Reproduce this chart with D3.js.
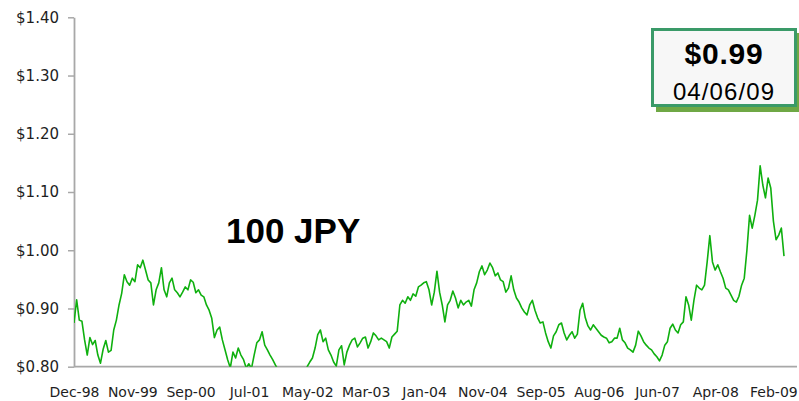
<!DOCTYPE html>
<html>
<head>
<meta charset="utf-8">
<script src="https://cdn.jsdelivr.net/npm/d3@7"></script>
<style>
  html, body { margin: 0; padding: 0; background: #ffffff; }
  svg { display: block; }
</style>
</head>
<body>
<svg id="chart" width="799" height="401"></svg>
<script>
// USD value of 100 JPY, fortnightly closes starting 28 Dec 1998.
const seriesStart = "1998-12-28";
const stepDays = 14;

const rates1999 = [0.875, 0.915, 0.880, 0.878, 0.846, 0.820, 0.850, 0.838, 0.845, 0.820, 0.806, 0.830, 0.845,
                   0.825, 0.828, 0.863, 0.880, 0.906, 0.926, 0.958, 0.946, 0.940, 0.952, 0.946, 0.975, 0.970];
const rates2000 = [0.983, 0.966, 0.949, 0.944, 0.906, 0.932, 0.944, 0.970, 0.932, 0.920, 0.944, 0.952, 0.932,
                   0.927, 0.920, 0.928, 0.937, 0.932, 0.949, 0.945, 0.927, 0.932, 0.923, 0.920, 0.906, 0.897];
const rates2001 = [0.883, 0.850, 0.863, 0.868, 0.846, 0.829, 0.812, 0.798, 0.825, 0.815, 0.832, 0.820, 0.812,
                   0.798, 0.805, 0.797, 0.820, 0.841, 0.846, 0.860, 0.837, 0.829, 0.820, 0.812, 0.803, 0.795];
const rates2002 = [0.790, 0.782, 0.775, 0.768, 0.760, 0.755, 0.758, 0.765, 0.772, 0.785, 0.800, 0.808, 0.815,
                   0.832, 0.855, 0.863, 0.843, 0.849, 0.829, 0.820, 0.808, 0.801, 0.829, 0.836, 0.803, 0.825];
const rates2003 = [0.837, 0.846, 0.849, 0.834, 0.841, 0.849, 0.851, 0.832, 0.843, 0.858, 0.853, 0.846, 0.849,
                   0.846, 0.843, 0.832, 0.851, 0.856, 0.861, 0.906, 0.914, 0.909, 0.920, 0.914, 0.925, 0.921];
const rates2004 = [0.937, 0.940, 0.944, 0.946, 0.932, 0.906, 0.928, 0.964, 0.928, 0.906, 0.877, 0.906, 0.914,
                   0.930, 0.918, 0.901, 0.914, 0.906, 0.911, 0.914, 0.904, 0.932, 0.944, 0.963, 0.973, 0.958];
const rates2005 = [0.966, 0.978, 0.970, 0.956, 0.961, 0.949, 0.946, 0.928, 0.935, 0.956, 0.932, 0.918, 0.911,
                   0.901, 0.894, 0.889, 0.906, 0.914, 0.897, 0.884, 0.875, 0.877, 0.858, 0.843, 0.832, 0.853];
const rates2006 = [0.860, 0.872, 0.875, 0.858, 0.846, 0.854, 0.860, 0.849, 0.856, 0.897, 0.909, 0.884, 0.870,
                   0.863, 0.872, 0.866, 0.860, 0.854, 0.851, 0.849, 0.841, 0.843, 0.849, 0.849, 0.866, 0.846];
const rates2007 = [0.841, 0.832, 0.829, 0.825, 0.837, 0.861, 0.853, 0.843, 0.837, 0.832, 0.829, 0.822, 0.817,
                   0.810, 0.820, 0.837, 0.843, 0.866, 0.873, 0.863, 0.858, 0.872, 0.877, 0.920, 0.906, 0.880];
const rates2008 = [0.914, 0.940, 0.935, 0.932, 0.940, 0.980, 1.025, 0.980, 0.966, 0.975, 0.963, 0.952, 0.935,
                   0.932, 0.923, 0.914, 0.911, 0.921, 0.940, 0.952, 1.000, 1.060, 1.038, 1.060, 1.086, 1.145];
const rates2009 = [1.112, 1.090, 1.124, 1.107, 1.050, 1.018, 1.026, 1.038, 0.990];

const yTicks = [0.80, 0.90, 1.00, 1.10, 1.20, 1.30, 1.40];
const xTickDates = ["1998-12-28", "1999-11-01", "2000-09-04", "2001-07-10", "2002-05-14", "2003-03-18", "2004-01-21",
                    "2004-11-24", "2005-09-28", "2006-08-01", "2007-06-05", "2008-04-08", "2009-02-09"];
const seriesName = "100 JPY";

// ---- build series ----
const parseDate = d3.timeParse("%Y-%m-%d");
const start = parseDate(seriesStart);
const values = [].concat(rates1999, rates2000, rates2001, rates2002, rates2003, rates2004,
                         rates2005, rates2006, rates2007, rates2008, rates2009);
const series = values.map((v, i) => ({ date: d3.timeDay.offset(start, i * stepDays), value: v }));
const last = series[series.length - 1];

const svg = d3.select("#chart");
const plot = { left: 74, right: 797, top: 17.3, bottom: 366.7, lineEnd: 784 };

const x = d3.scaleTime()
  .domain([series[0].date, last.date])
  .range([plot.left, plot.lineEnd]);
const y = d3.scaleLinear()
  .domain([0.80, 1.40])
  .range([plot.bottom, plot.top]);

const axisColor = "#a8a8a8";
const labelFont = '"DejaVu Sans", Verdana, sans-serif';

// clip the series to the plot area (values under $0.80 fall off the chart)
svg.append("defs").append("clipPath").attr("id", "plotClip")
  .append("rect")
  .attr("x", plot.left).attr("y", 0)
  .attr("width", plot.right - plot.left).attr("height", plot.bottom);

// ---- y axis ----
const yAxis = svg.append("g")
  .attr("transform", `translate(${plot.left},0)`)
  .call(d3.axisLeft(y)
    .tickValues(yTicks)
    .tickSize(6)
    .tickSizeOuter(0)
    .tickPadding(9)
    .tickFormat(d => "$" + d3.format(".2f")(d)));
yAxis.select(".domain").attr("stroke", axisColor).attr("stroke-width", 1.8);
yAxis.selectAll(".tick line").attr("stroke", axisColor).attr("stroke-width", 1.5);
yAxis.selectAll(".tick text")
  .attr("fill", "#1e1e1e")
  .style("font-family", labelFont)
  .style("font-size", "15px");

// ---- x axis ----
svg.append("line")
  .attr("x1", plot.left).attr("x2", plot.right)
  .attr("y1", plot.bottom).attr("y2", plot.bottom)
  .attr("stroke", axisColor).attr("stroke-width", 1.8);

const xAxis = svg.append("g")
  .attr("transform", `translate(0,${plot.bottom})`)
  .call(d3.axisBottom(x)
    .tickValues(xTickDates.map(parseDate))
    .tickSize(0)
    .tickSizeOuter(0)
    .tickPadding(20)
    .tickFormat(d3.timeFormat("%b-%y")));
xAxis.select(".domain").remove();
xAxis.selectAll(".tick text")
  .attr("fill", "#1e1e1e")
  .style("font-family", labelFont)
  .style("font-size", "14px");

// ---- price line ----
const line = d3.line()
  .x(d => x(d.date))
  .y(d => y(d.value));

svg.append("path")
  .datum(series)
  .attr("clip-path", "url(#plotClip)")
  .attr("fill", "none")
  .attr("stroke", "#0fb00f")
  .attr("stroke-width", 1.6)
  .attr("stroke-linejoin", "round")
  .attr("d", line);

// ---- series label ----
svg.append("text")
  .attr("x", 226).attr("y", 243)
  .attr("fill", "#000")
  .style("font-family", '"Liberation Sans", Arial, sans-serif')
  .style("font-weight", "bold")
  .style("font-size", "35px")
  .text(seriesName);

// ---- latest value callout ----
const box = svg.append("g");
box.append("rect")
  .attr("x", 656).attr("y", 33)
  .attr("width", 146).attr("height", 79)
  .attr("fill", "#6fa845");
box.append("rect")
  .attr("x", 652.5).attr("y", 29.5)
  .attr("width", 143).attr("height", 76)
  .attr("fill", "#f7f7f7")
  .attr("stroke", "#3a9a68")
  .attr("stroke-width", 3);
box.append("text")
  .attr("x", 724).attr("y", 64)
  .attr("text-anchor", "middle")
  .attr("fill", "#000")
  .style("font-family", '"Liberation Sans", Arial, sans-serif')
  .style("font-weight", "bold")
  .style("font-size", "30px")
  .style("letter-spacing", "0.8px")
  .text("$" + d3.format(".2f")(last.value));
box.append("text")
  .attr("x", 724).attr("y", 100)
  .attr("text-anchor", "middle")
  .attr("fill", "#000")
  .style("font-family", '"Liberation Sans", Arial, sans-serif')
  .style("font-size", "24px")
  .style("letter-spacing", "1.1px")
  .text(d3.timeFormat("%m/%d/%y")(last.date));
</script>
</body>
</html>
